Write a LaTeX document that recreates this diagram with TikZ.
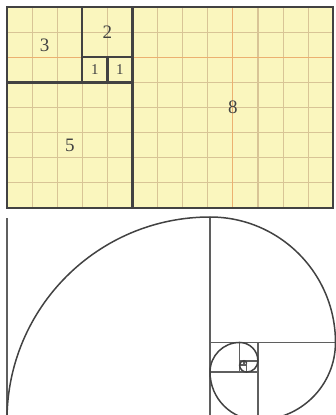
\documentclass[tikz,border=0pt]{standalone}
\usepackage{fontspec}
\setmainfont{Liberation Serif}
\usepackage{xcolor}
\definecolor{paper}{RGB}{250,246,190}
\definecolor{gridtan}{RGB}{216,196,150}
\definecolor{gridorange}{RGB}{236,176,112}
\definecolor{inkgray}{RGB}{66,66,66}
\definecolor{spiralgray}{RGB}{95,95,95}

\begin{document}
\begin{tikzpicture}[x=1pt, y=1pt,
    sqline/.style={inkgray, line width=2.2pt},
    gridline/.style={gridtan, line width=1.1pt},
    numlabel/.style={text=inkgray, inner sep=0pt, font=\fontsize{19}{19}\selectfont},
    smalllabel/.style={numlabel, font=\fontsize{15}{15}\selectfont},
    spline/.style={spiralgray, line width=1.5pt}]
  \useasboundingbox (0,0) rectangle (336,415);
  \clip (0,0) rectangle (336,415);
  % Rectangle of Fibonacci squares on graph paper
  \begin{scope}[shift={(7,207)}, x=25.1pt, y=25.1pt]
    \fill[paper] (0,0) rectangle (13,8);
    \foreach \i in {1,...,12}
      \draw[gridline] (\i,0) -- (\i,8);
    \foreach \j in {1,...,7}
      \draw[gridline] (0,\j) -- (13,\j);
    \draw[gridline, gridorange] (0,6) -- (13,6);
    \draw[gridline, gridorange] (9,0) -- (9,8);
    % Squares
    \draw[sqline] (0,0) rectangle (13,8);
    \draw[sqline] (5,0) -- (5,8);
    \draw[sqline] (0,5) -- (5,5);
    \draw[sqline] (3,5) -- (3,8);
    \draw[sqline] (3,6) -- (5,6);
    \draw[sqline] (4,5) -- (4,6);
    % Labels
    \node[numlabel] (n3) at (1.5,6.5) {3};
    \node[numlabel] (n2) at (4,7) {2};
    \node[smalllabel] (n1a) at (3.5,5.5) {1};
    \node[smalllabel] (n1b) at (4.5,5.5) {1};
    \node[numlabel] (n5) at (2.5,2.5) {5};
    \node[numlabel] (n8) at (9,4) {8};
  \end{scope}
  % Golden spiral
  \draw[spline] (7,-5) -- (7,197);
  \draw[spline] (210,-5) -- (210,198);
  \draw[spline] (210,72.54) -- (335.46,72.54);
  \draw[spline] (257.92,-5) -- (257.92,72.54);
  \draw[spline] (210,42.92) -- (257.92,42.92);
  \draw[spline] (239.62,42.92) -- (239.62,72.54);
  \draw[spline] (239.62,54.24) -- (257.92,54.24);
  \draw[spline] (246.61,42.92) -- (246.61,54.24);
  \draw[spline] (239.62,49.91) -- (246.61,49.91);
  \draw[spline] (243.94,49.91) -- (243.94,54.24);
  \draw[spline, inkgray] (7,-5)
    \foreach \k in {0,...,9} { arc ({180-90*\k}:{90-90*\k}:{203*0.618034^\k}) };
\end{tikzpicture}
\end{document}
